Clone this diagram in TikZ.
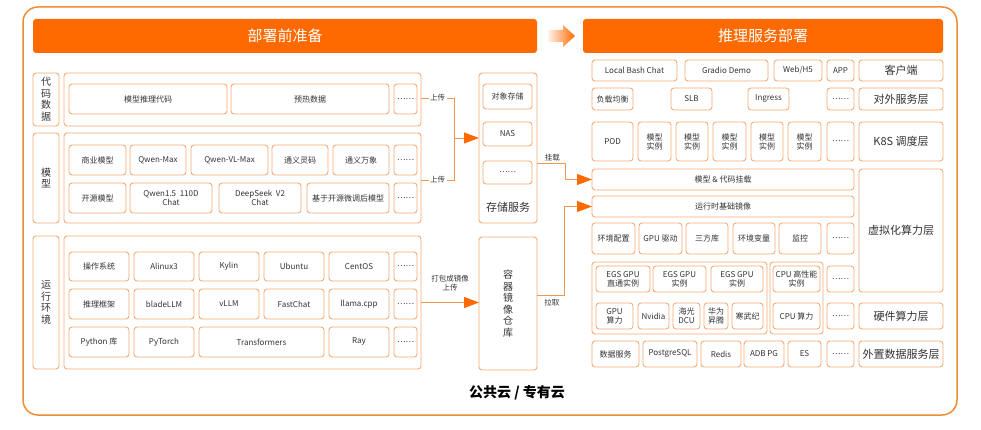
\documentclass[tikz,border=0pt]{standalone}
\usepackage{fontspec}
\setmainfont{Noto Sans CJK SC}
\usetikzlibrary{arrows.meta}
\definecolor{hdr}{RGB}{255,106,0}
\definecolor{bord}{RGB}{246,172,116}
\definecolor{lnc}{RGB}{242,150,80}
\definecolor{txt}{RGB}{51,51,51}
\definecolor{frm}{RGB}{240,140,50}
\newcommand\R[7][bx]{\node[#1,minimum width={(#5-#3)*1pt},minimum height={(#6-#4)*1pt}] (#2) at ({(#3+#5)/2},{(#4+#6)/2}) {#7};}
\tikzset{
 bx/.style={draw=bord, line width=0.9pt, rounded corners=3pt, fill=white, inner sep=1pt, outer sep=0pt, align=center, text=txt, font=\fontsize{8}{9}\selectfont},
 big/.style={font=\fontsize{11}{13}\selectfont},
 vert/.style={font=\fontsize{10}{11.5}\selectfont},
 hdrbar/.style={fill=hdr, draw=none, rounded corners=3pt, text=white, outer sep=0pt, font=\fontsize{15}{18}\selectfont},
 conn/.style={draw=lnc, line width=0.9pt},
 arr/.style={conn, -{Triangle[length=15pt,width=11pt,color=hdr]}},
 lbl/.style={fill=white, text=txt, inner sep=1.5pt, align=center, font=\fontsize{7.5}{8.5}\selectfont},
 lbltxt/.style={text=txt, inner sep=1.5pt, align=center, font=\fontsize{7.5}{9}\selectfont},
}
\begin{document}
\begin{tikzpicture}[x=1pt,y=-1pt]
\useasboundingbox (0,0) rectangle (981,430);
\draw[frm, line width=1.5pt, rounded corners=15pt] (23,7) rectangle (957,415);
% headers
\R[hdrbar]{h1}{33}{19}{537}{53}{部署前准备}
\R[hdrbar]{h2}{583}{19}{943}{53}{推理服务部署}
\shade[left color=hdr!8, right color=hdr] (548,30) -- (563,30) -- (563,25) -- (575,36) -- (563,47) -- (563,42) -- (548,42) -- cycle;
% ---- left: code/data
\R[bx,vert]{lcode}{33}{73}{59}{126}{代\\码\\数\\据}
\R{code}{64}{73}{421}{126}{}
\R{c11}{69}{84}{227}{114}{模型推理代码}
\R{c12}{231}{84}{389}{114}{预热数据}
\R{c13}{394}{84}{417}{114}{……}
% ---- left: model
\R[bx,vert]{lmodel}{33}{133}{59}{223}{模\\型}
\R{model}{64}{133}{421}{223}{}
\R{m11}{69}{145}{126}{175}{商业模型}
\R{m12}{130}{145}{186}{175}{Qwen-Max}
\R{m13}{191}{145}{268}{175}{Qwen-VL-Max}
\R{m14}{272}{145}{328}{175}{通义灵码}
\R{m15}{333}{145}{389}{175}{通义万象}
\R{m16}{394}{145}{417}{175}{……}
\R{m21}{69}{183}{126}{213}{开源模型}
\R{m22}{130}{183}{212}{213}{Qwen1.5\ \ 110D\\Chat}
\R{m23}{219}{183}{301}{213}{DeepSeek\ \ V2\\Chat}
\R{m24}{307}{183}{389}{213}{基于开源微调后模型}
\R{m25}{394}{183}{417}{213}{……}
% ---- left: runtime
\R[bx,vert]{lrt}{33}{236}{59}{369}{运\\行\\环\\境}
\R{rt}{64}{236}{421}{369}{}
\R{r11}{69}{252}{129}{281}{操作系统}
\R{r12}{134}{252}{194}{281}{Alinux3}
\R{r13}{199}{252}{259}{281}{Kylin}
\R{r14}{264}{252}{324}{281}{Ubuntu}
\R{r15}{329}{252}{389}{281}{CentOS}
\R{r16}{394}{252}{417}{281}{……}
\R{r21}{69}{289}{129}{319}{推理框架}
\R{r22}{134}{289}{194}{319}{bladeLLM}
\R{r23}{199}{289}{259}{319}{vLLM}
\R{r24}{264}{289}{324}{319}{FastChat}
\R{r25}{329}{289}{389}{319}{llama.cpp}
\R{r26}{394}{289}{417}{319}{……}
\R{r31}{69}{327}{129}{357}{Python 库}
\R{r32}{134}{327}{194}{357}{PyTorch}
\R{r33}{199}{327}{324}{357}{Transformers}
\R{r34}{329}{327}{389}{357}{Ray}
\R{r35}{394}{327}{417}{357}{……}
% ---- storage & repo
\R{stor}{479}{73}{537}{223}{}
\R{s1}{483}{84}{532}{109}{对象存储}
\R{s2}{483}{122}{532}{146}{NAS}
\R{s3}{483}{161}{532}{184}{……}
\node[lbltxt, big] (storlbl) at (508,207) {存储服务};
\R[bx,vert]{repo}{479}{237}{537}{370}{容\\器\\镜\\像\\仓\\库}
% ---- left connectors
\coordinate (j1) at (454,98);
\coordinate (j2) at (454,180);
\coordinate (j3) at (454,138);
\draw[conn] (j1 -| code.east) -- node[lbl]{上传} (j1) -- (j2) -- node[lbl]{上传} (j2 -| model.east);
\draw[arr] (j3) -- (j3 -| stor.west);
\draw[arr] (rt.east) -- node[lbltxt, above=9pt]{打包成镜像\\上传} (rt.east -| repo.west);
% ---- right side
\R{c1}{592}{60}{677}{81}{Local Bash Chat}
\R{c2}{685}{60}{768}{81}{Gradio Demo}
\R{c3}{774}{60}{822}{81}{Web/H5}
\R{c4}{827}{60}{854}{81}{APP}
\R[bx,big]{c5}{859}{60}{943}{81}{客户端}
\R{sv1}{592}{88}{633}{110}{负载均衡}
\R{sv2}{671}{88}{712}{110}{SLB}
\R{sv3}{748}{88}{789}{110}{Ingress}
\R{sv4}{827}{88}{854}{110}{……}
\R[bx,big]{sv5}{859}{88}{943}{110}{对外服务层}
\R{k1}{592}{122}{633}{161}{POD}
\R{k2}{638}{122}{671}{161}{模型\\实例}
\R{k3}{676}{122}{708}{161}{模型\\实例}
\R{k4}{713}{122}{746}{161}{模型\\实例}
\R{k5}{751}{122}{783}{161}{模型\\实例}
\R{k6}{788}{122}{821}{161}{模型\\实例}
\R{k7}{827}{122}{854}{161}{……}
\R[bx,big]{k8}{859}{122}{943}{161}{K8S 调度层}
\R{mount}{592}{169}{854}{190}{模型 \& 代码挂载}
\R{base}{592}{196}{854}{217}{运行时基础镜像}
\R[bx,big]{virt}{859}{169}{943}{292}{虚拟化算力层}
\R{e1}{592}{223}{635}{254}{环境配置}
\R{e2}{639}{223}{682}{254}{GPU 驱动}
\R{e3}{686}{223}{728}{254}{三方库}
\R{e4}{733}{223}{775}{254}{环境变量}
\R{e5}{779}{223}{821}{254}{监控}
\R{e6}{827}{223}{854}{254}{……}
\R{gg}{592}{262}{767}{334}{}
\R{cg}{770}{262}{823}{334}{}
\R{g1}{596}{266}{650}{292}{EGS GPU\\直通实例}
\R{g2}{653}{266}{706}{292}{EGS GPU\\实例}
\R{g3}{711}{266}{763}{292}{EGS GPU\\实例}
\R{cp1}{773}{266}{820}{292}{CPU 高性能\\实例}
\R{hd1}{827}{266}{854}{292}{……}
\R{b1}{596}{303}{633}{329}{GPU\\算力}
\R{b2}{638}{303}{669}{329}{Nvidia}
\R{b3}{673}{303}{700}{329}{海光\\DCU}
\R{b4}{704}{303}{728}{329}{华为\\昇腾}
\R{b5}{732}{303}{763}{329}{寒武纪}
\R{cp2}{773}{303}{820}{329}{CPU 算力}
\R{hd2}{827}{303}{854}{329}{……}
\R[bx,big]{hw}{859}{303}{943}{329}{硬件算力层}
\R{d1}{592}{341}{639}{367}{数据服务}
\R{d2}{643}{341}{697}{367}{PostgreSQL}
\R{d3}{701}{341}{741}{367}{Redis}
\R{d4}{744}{341}{784}{367}{ADB PG}
\R{d5}{788}{341}{821}{367}{ES}
\R{d6}{827}{341}{854}{367}{……}
\R[bx,big]{d7}{859}{341}{943}{367}{外置数据服务层}
% ---- right connectors
\coordinate (mk) at (565,163);
\coordinate (pl) at (564,295);
\draw[arr] (mk -| stor.east) -- node[lbltxt, above, pos=0.55]{挂载} (mk) |- (mount.west);
\draw[arr] (pl -| repo.east) -- node[lbltxt, below=2pt, pos=0.55]{拉取} (pl) |- (base.west);
\node[text=black, font=\bfseries\fontsize{14}{16}\selectfont] (cloud) at (517,393) {公共云 / 专有云};
\end{tikzpicture}
\end{document}
